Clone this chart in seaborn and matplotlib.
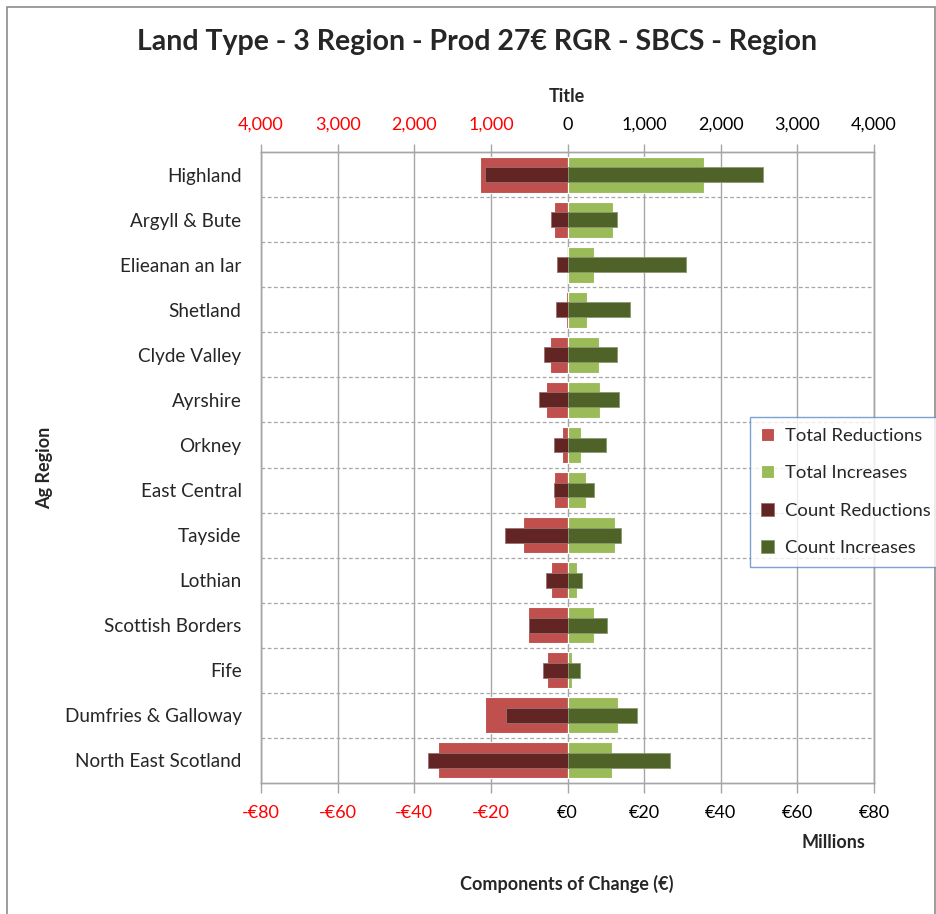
import matplotlib
matplotlib.use('Agg')
import matplotlib.pyplot as plt
import seaborn as sns
from matplotlib.patches import Rectangle

regions = ['Highland', 'Argyll & Bute', 'Elieanan an Iar', 'Shetland', 'Clyde Valley',
           'Ayrshire', 'Orkney', 'East Central', 'Tayside', 'Lothian',
           'Scottish Borders', 'Fife', 'Dumfries & Galloway', 'North East Scotland']

# millions of euro
total_red = [-22.8, -3.5, 0.0, -0.3, -4.6, -5.6, -1.5, -3.5, -11.6, -4.4, -10.3, -5.3, -21.5, -33.9]
total_inc = [35.5, 11.9, 6.8, 5.1, 8.1, 8.6, 3.4, 4.7, 12.5, 2.4, 7.0, 1.2, 13.2, 11.6]
# counts
count_red = [-1080, -210, -135, -145, -310, -375, -175, -175, -815, -280, -505, -320, -805, -1820]
count_inc = [2555, 650, 1540, 815, 650, 670, 505, 350, 700, 195, 515, 160, 905, 1340]

money_ticks = [-80, -60, -40, -20, 0, 20, 40, 60, 80]
count_ticks = [-4000, -3000, -2000, -1000, 0, 1000, 2000, 3000, 4000]

c_tred = '#C0504D'
c_tinc = '#9BBB59'
c_cred = '#632523'
c_cinc = '#4F6228'

sns.set_style('white')
plt.rcParams['font.family'] = ['Lato', 'DejaVu Sans']

W, H = 937, 914
fig = plt.figure(figsize=(W / 100, H / 100), dpi=100)
fig.patches.append(Rectangle((7 / W, -0.01), 928 / W, 1 - 7 / H + 0.01, transform=fig.transFigure,
                             fill=False, edgecolor='#8c8c8c', linewidth=1.2))

ax = fig.add_axes([261 / W, 1 - 783 / H, 613 / W, 631 / H])
ax2 = ax.twiny()

sns.barplot(x=total_red, y=regions, orient='h', color=c_tred, width=0.8, saturation=1,
            edgecolor='white', linewidth=0.8, label='Total Reductions', ax=ax)
sns.barplot(x=total_inc, y=regions, orient='h', color=c_tinc, width=0.8, saturation=1,
            edgecolor='white', linewidth=0.8, label='Total Increases', ax=ax)
sns.barplot(x=count_red, y=regions, orient='h', color=c_cred, width=0.33, saturation=1,
            edgecolor='#9a7070', linewidth=0.6, label='Count Reductions', ax=ax2)
sns.barplot(x=count_inc, y=regions, orient='h', color=c_cinc, width=0.33, saturation=1,
            edgecolor='#8a9a70', linewidth=0.6, label='Count Increases', ax=ax2)

for a in (ax, ax2):
    if a.get_legend() is not None:
        a.get_legend().remove()

ax.set_xlim(-80, 80)
ax2.set_xlim(-4000, 4000)
ax.set_ylim(len(regions) - 0.5, -0.5)

ax.set_axisbelow(True)
for t in money_ticks:
    ax.axvline(t, color='#a6a6a6', linewidth=1, zorder=0)
for i in range(len(regions) - 1):
    ax.axhline(i + 0.5, color='#a6a6a6', linewidth=0.9, linestyle=(0, (3, 2)), zorder=0)

ax.set_xticks(money_ticks)
ax.set_xticklabels([('-€%d' % abs(v)) if v < 0 else '€%d' % v for v in money_ticks])
for lab, v in zip(ax.get_xticklabels(), money_ticks):
    lab.set_color('red' if v < 0 else 'black')
ax2.set_xticks(count_ticks)
ax2.set_xticklabels(['{:,}'.format(abs(v)) for v in count_ticks])
for lab, v in zip(ax2.get_xticklabels(), count_ticks):
    lab.set_color('red' if v < 0 else 'black')

ax.tick_params(axis='x', direction='out', length=7, width=1, color='#a6a6a6', labelsize=13, pad=9, bottom=True)
ax2.tick_params(axis='x', direction='out', length=6, width=1, color='#a6a6a6', labelsize=13, pad=8, top=True)
ax.tick_params(axis='y', length=0, labelsize=13.6, pad=14)

for a in (ax, ax2):
    for s in a.spines.values():
        s.set_color('#a6a6a6')
        s.set_linewidth(1)
    a.set_xlabel('')
    a.set_ylabel('')

fig.text(477 / W, 1 - 42 / H, 'Land Type - 3 Region - Prod 27€ RGR - SBCS - Region',
         ha='center', va='center', fontsize=20.5, fontweight='bold')
fig.text(567 / W, 1 - 97 / H, 'Title', ha='center', va='center', fontsize=13, fontweight='bold')
fig.text(833 / W, 1 - 842 / H, 'Millions', ha='center', va='center', fontsize=13, fontweight='bold')
fig.text(567 / W, 1 - 884 / H, 'Components of Change (€)', ha='center', va='center',
         fontsize=13, fontweight='bold')
fig.text(45 / W, 1 - 468 / H, 'Ag Region', ha='center', va='center', rotation=90,
         fontsize=13, fontweight='bold')

h1, l1 = ax.get_legend_handles_labels()
h2, l2 = ax2.get_legend_handles_labels()
leg = fig.legend(h1 + h2, l1 + l2, loc='upper left', bbox_to_anchor=(750 / W, 1 - 417 / H),
                 frameon=True, fancybox=False, fontsize=13.3, handlelength=0.7, handleheight=0.7,
                 handletextpad=0.6, labelspacing=1.15, borderpad=0.6, borderaxespad=0)
leg.get_frame().set_edgecolor('#5b8bc8')
leg.get_frame().set_linewidth(1)

fig.savefig('out.png', dpi=100)
